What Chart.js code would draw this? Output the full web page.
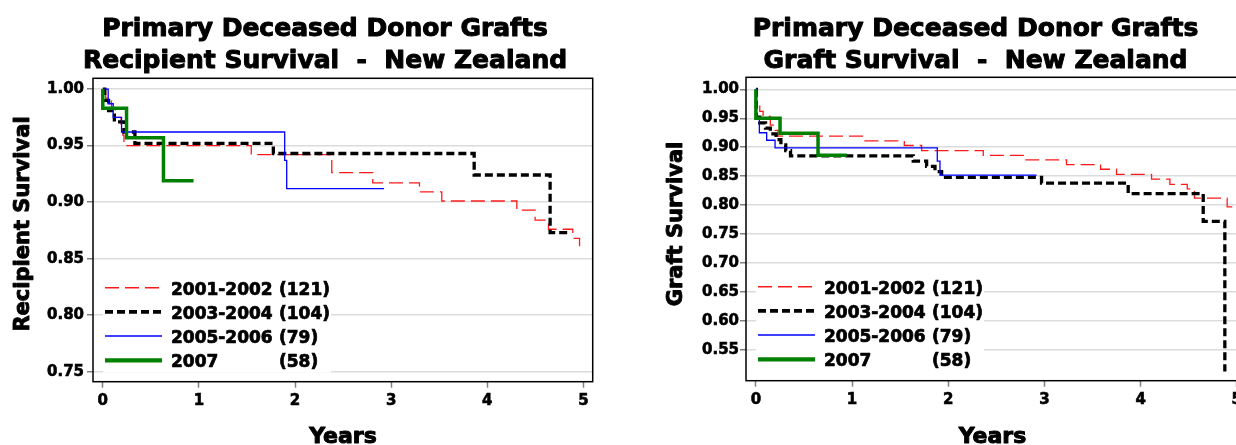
<!DOCTYPE html>
<html>
<head>
<meta charset="utf-8">
<script src="https://cdn.jsdelivr.net/npm/chart.js@4/dist/chart.umd.min.js"></script>
<style>
  html, body { margin: 0; padding: 0; background: #fff; overflow: hidden; width: 1236px; height: 445px; }
  #recipientChart { position: absolute; left: 0; top: 0; }
  #graftChart { position: absolute; left: 618px; top: 0; }
</style>
</head>
<body>
<canvas id="recipientChart" width="618" height="445"></canvas>
<canvas id="graftChart" width="640" height="445"></canvas>
<script>
// Cohorts and patient counts
const cohortNames = ['2001-2002', '2003-2004', '2005-2006', '2007'];
const cohortCounts = ['(121)', '(104)', '(79)', '(58)'];

// Tick labels
const xTickValues = [0, 1, 2, 3, 4, 5];
const recipientTicks = [0.75, 0.80, 0.85, 0.90, 0.95, 1.00];
const graftTicks = [0.55, 0.60, 0.65, 0.70, 0.75, 0.80, 0.85, 0.90, 0.95, 1.00];

// Recipient survival (Kaplan-Meier steps: years, survival after each event)
const rec0102Years = [0, 0.03, 0.09, 0.13, 0.19, 0.21, 0.22, 1.544, 2.382, 2.808, 3.294, 3.526, 4.307, 4.497, 4.636, 4.889, 4.959];
const rec0102Surv  = [1.000, 0.992, 0.983, 0.975, 0.967, 0.959, 0.950, 0.942, 0.926, 0.917, 0.909, 0.901, 0.893, 0.884, 0.876, 0.868, 0.860];
const rec0304Years = [0, 0.02, 0.06, 0.12, 0.22, 0.334, 1.774, 3.863, 4.653, 4.862];
const rec0304Surv  = [1.000, 0.990, 0.981, 0.971, 0.962, 0.952, 0.943, 0.924, 0.873, 0.873];
const rec0506Years = [0, 0.056, 0.108, 0.195, 1.892, 1.913, 2.926];
const rec0506Surv  = [1.000, 0.987, 0.975, 0.962, 0.937, 0.912, 0.912];
const rec07Years   = [0, 0, 0.247, 0.631, 0.944];
const rec07Surv    = [1.000, 0.983, 0.957, 0.919, 0.919];

// Graft survival
const gr0102Years = [0, 0.005, 0.04, 0.075, 0.15, 0.2, 0.23, 1.124, 1.543, 1.723, 2.364, 2.808, 3.23, 3.584, 3.75, 4.114, 4.305, 4.485, 4.56, 4.90, 4.96];
const gr0102Surv  = [1.000, 0.971, 0.962, 0.953, 0.938, 0.929, 0.919, 0.911, 0.903, 0.894, 0.886, 0.878, 0.870, 0.862, 0.853, 0.845, 0.836, 0.828, 0.812, 0.797, 0.797];
const gr0304Years = [0, 0.005, 0.04, 0.1, 0.15, 0.21, 0.26, 0.31, 0.36, 1.636, 1.775, 1.862, 1.931, 2.97, 3.871, 4.651, 4.876];
const gr0304Surv  = [1.000, 0.952, 0.942, 0.933, 0.923, 0.913, 0.904, 0.894, 0.885, 0.876, 0.867, 0.858, 0.848, 0.838, 0.820, 0.772, 0.513];
const gr0506Years = [0, 0.005, 0.036, 0.112, 0.199, 1.886, 1.914, 2.919];
const gr0506Surv  = [1.000, 0.949, 0.925, 0.912, 0.899, 0.876, 0.852, 0.852];
const gr07Years   = [0, 0, 0.251, 0.646, 0.944];
const gr07Surv    = [1.000, 0.950, 0.924, 0.886, 0.886];

const FONT = "'DejaVu Sans', 'Liberation Sans', sans-serif";

const toPoints = (xs, ys) => xs.map((x, i) => ({ x, y: ys[i] }));

const lineStyles = [
  { borderColor: '#ff1a1a', borderWidth: 1.3, borderDash: [14, 6], legendWidth: 1.5, order: 3 },
  { borderColor: '#000000', borderWidth: 3.3, borderDash: [8, 4], legendWidth: 3.6, order: 2 },
  { borderColor: '#0000ff', borderWidth: 1.3, borderDash: [], legendWidth: 1.5, order: 1 },
  { borderColor: '#008000', borderWidth: 3.5, borderDash: [], legendWidth: 4.3, order: 0 }
];

function makeDatasets(series) {
  return series.map((s, i) => Object.assign({
    label: cohortNames[i],
    data: toPoints(s[0], s[1]),
    showLine: true,
    stepped: true,
    pointRadius: 0,
    fill: false,
    borderCapStyle: 'butt',
    borderJoinStyle: 'miter'
  }, lineStyles[i]));
}

// Heavy text: fill plus a thin outline of the same colour
function heavyText(ctx, text, x, y, weight) {
  ctx.lineWidth = weight;
  ctx.lineJoin = 'round';
  ctx.strokeStyle = '#000';
  ctx.strokeText(text, x, y);
  ctx.fillText(text, x, y);
}

// Frame, in-plot legend, titles and axis titles
const decorations = {
  id: 'decorations',
  beforeDatasetsDraw(chart) {
    const a = chart.chartArea, ctx = chart.ctx;
    ctx.save();
    ctx.fillStyle = '#ffffff';
    ctx.fillRect(a.left + 10, a.bottom - 106, 228, 97);
    ctx.restore();
  },
  afterDatasetsDraw(chart, args, opts) {
    const a = chart.chartArea, ctx = chart.ctx;
    ctx.save();
    ctx.strokeStyle = '#000';
    ctx.lineWidth = 1.5;
    ctx.setLineDash([]);
    ctx.strokeRect(a.left, a.top, a.right - a.left, a.bottom - a.top);

    chart.data.datasets.forEach((ds, i) => {
      const ly = a.bottom - 94 + i * 24.2;
      ctx.beginPath();
      ctx.strokeStyle = ds.borderColor;
      ctx.lineWidth = ds.legendWidth;
      ctx.setLineDash(ds.borderDash);
      ctx.lineCap = 'butt';
      ctx.moveTo(a.left + 12, ly);
      ctx.lineTo(a.left + 69, ly);
      ctx.stroke();
      ctx.setLineDash([]);
      ctx.fillStyle = '#000';
      ctx.font = `bold 17px ${FONT}`;
      ctx.textAlign = 'left';
      ctx.textBaseline = 'alphabetic';
      heavyText(ctx, cohortNames[i], a.left + 78, ly + 7, 0.7);
      heavyText(ctx, cohortCounts[i], a.left + 186, ly + 7, 0.7);
    });
    ctx.restore();
  },
  afterDraw(chart, args, opts) {
    const ctx = chart.ctx;
    ctx.save();
    ctx.fillStyle = '#000';
    ctx.textAlign = 'center';
    ctx.textBaseline = 'alphabetic';
    ctx.font = `bold 25px ${FONT}`;
    opts.title.forEach((line, i) => heavyText(ctx, line, opts.titleX, 36 + i * 32.3, 1.0));

    ctx.font = `bold 22px ${FONT}`;
    heavyText(ctx, 'Years', opts.xTitleX, 443, 1.0);

    ctx.translate(opts.yTitleX, 224);
    ctx.rotate(-Math.PI / 2);
    ctx.font = `bold 21px ${FONT}`;
    heavyText(ctx, opts.yTitle, 0, 0, 0.9);
    ctx.restore();
  }
};

function makeChart(canvasId, series, cfg) {
  return new Chart(document.getElementById(canvasId), {
    type: 'scatter',
    data: { datasets: makeDatasets(series) },
    plugins: [decorations],
    options: {
      responsive: false,
      animation: false,
      events: [],
      layout: { padding: { top: cfg.top, right: cfg.right, left: 0, bottom: 0 } },
      plugins: {
        legend: { display: false },
        tooltip: { enabled: false },
        decorations: cfg.decor
      },
      scales: {
        x: {
          type: 'linear',
          min: cfg.xMin,
          max: cfg.xMax,
          afterBuildTicks: s => { s.ticks = xTickValues.map(v => ({ value: v })); },
          afterFit: s => { s.height = cfg.xHeight; },
          ticks: {
            callback: v => String(v),
            color: '#000',
            textStrokeColor: '#000',
            textStrokeWidth: 0.6,
            font: { family: FONT, weight: 'bold', size: 15 },
            padding: 4,
            maxRotation: 0
          },
          grid: { drawOnChartArea: false, drawTicks: true, tickLength: 6, tickColor: '#808080', tickWidth: 1.5 },
          border: { display: false }
        },
        y: {
          type: 'linear',
          min: cfg.yMin,
          max: cfg.yMax,
          afterBuildTicks: s => { s.ticks = cfg.yTicks.map(v => ({ value: v })); },
          afterFit: s => { s.width = cfg.yWidth; },
          ticks: {
            callback: v => v.toFixed(2),
            color: '#000',
            textStrokeColor: '#000',
            textStrokeWidth: 0.6,
            font: { family: FONT, weight: 'bold', size: 15 },
            padding: cfg.yPad
          },
          grid: { color: '#dcdcdc', lineWidth: 1.5, drawTicks: true, tickLength: 6, tickColor: '#808080', tickWidth: 1.5 },
          border: { display: false }
        }
      }
    }
  });
}

makeChart('recipientChart',
  [[rec0102Years, rec0102Surv], [rec0304Years, rec0304Surv], [rec0506Years, rec0506Surv], [rec07Years, rec07Surv]],
  {
    top: 78.3, right: 25.3, xHeight: 63.3, yWidth: 93, yPad: 3,
    xMin: -0.102, xMax: 5.096, yMin: 0.7412, yMax: 1.0095, yTicks: recipientTicks,
    decor: {
      title: ['Primary Deceased Donor Grafts', 'Recipient Survival  -  New Zealand'],
      titleX: 325, xTitleX: 343, yTitleX: 28.5, yTitle: 'Recipient Survival'
    }
  });

makeChart('graftChart',
  [[gr0102Years, gr0102Surv], [gr0304Years, gr0304Surv], [gr0506Years, gr0506Surv], [gr07Years, gr07Surv]],
  {
    top: 77.3, right: 12, xHeight: 64.3, yWidth: 128, yPad: 1,
    xMin: -0.103, xMax: 5.096, yMin: 0.497, yMax: 1.0207, yTicks: graftTicks,
    decor: {
      title: ['Primary Deceased Donor Grafts', 'Graft Survival  -  New Zealand'],
      titleX: 357.5, xTitleX: 374.5, yTitleX: 63.7, yTitle: 'Graft Survival'
    }
  });
</script>
</body>
</html>
